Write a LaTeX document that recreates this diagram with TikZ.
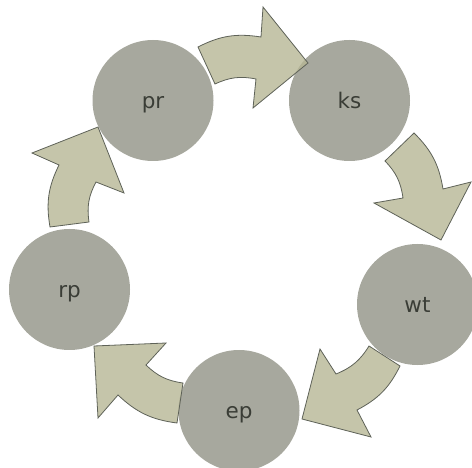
\documentclass[tikz,border=0pt]{standalone}
\usepackage{fontspec}
\setmainfont{DejaVu Sans}
\definecolor{stagegray}{HTML}{A7A89E}
\definecolor{arrowtan}{HTML}{B6B695}
\definecolor{edgegray}{HTML}{5E6258}
\definecolor{textgray}{HTML}{3A3D36}

\begin{document}
\begin{tikzpicture}[x=1pt,y=-1pt,
    stage/.style={circle,fill=stagegray,minimum size=121pt,inner sep=0pt,text=textgray,text height=20pt,text depth=4pt,font=\fontsize{21.5}{24}\selectfont},
    blockarrow/.style={fill=arrowtan,fill opacity=0.8,draw=edgegray,line width=0.8pt,line join=miter}]

    \useasboundingbox (0,0) rectangle (472,468);

    % Stages
    \node (pr) at (153,100.5) [stage] {pr};
    \node (ks) at (349.5,100.5) [stage] {ks};
    \node (wt) at (417.5,304.5) [stage] {wt};
    \node (ep) at (239,410.5) [stage] {ep};
    \node (rp) at (69.5,289.5) [stage] {rp};

    % pr to ks
    \draw[blockarrow] (198,47) to[bend left=18] (261,37) -- (263,7) -- (308,63) -- (253,108) -- (256,79) to[bend right=18] (215,84) -- cycle;

    % ks to wt
    \draw[blockarrow] (414,133) to[bend left=18] (443,189) -- (471,182) -- (441,240) -- (374,203) -- (403,198) to[bend right=18] (385,161) -- cycle;

    % wt to ep
    \draw[blockarrow] (400,366) to[bend left=18] (357,410) -- (371,437) -- (302,419) -- (320,349) -- (336,374) to[bend right=18] (369,346) -- cycle;

    % ep to rp
    \draw[blockarrow] (177,423) to[bend left=18] (118,395) -- (98,418) -- (94,346) -- (166,343) -- (146,365) to[bend right=18] (183,383) -- cycle;

    % rp to pr
    \draw[blockarrow] (50,227) to[bend left=18] (59,165) -- (32,153) -- (98,127) -- (124,193) -- (96,182) to[bend right=18] (89,222) -- cycle;

\end{tikzpicture}
\end{document}
